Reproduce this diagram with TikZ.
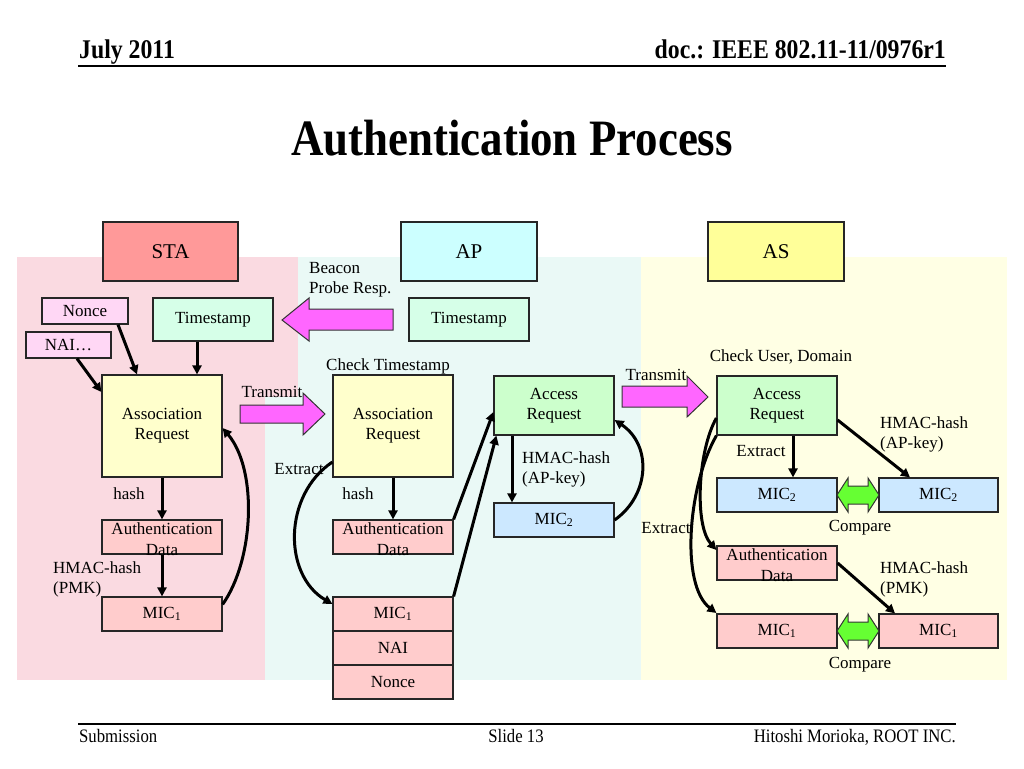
\documentclass[tikz,border=0pt]{standalone}
\usepackage{fontspec}
\setmainfont{Liberation Serif}
\newfontfamily\condserif[FakeStretch=0.88]{Liberation Serif}
\usetikzlibrary{arrows.meta}
\definecolor{zonePink}{RGB}{250,218,225}
\definecolor{zoneCyan}{RGB}{234,249,246}
\definecolor{zoneYellow}{RGB}{255,255,228}
\definecolor{staC}{RGB}{255,153,153}
\definecolor{apC}{RGB}{204,255,255}
\definecolor{asC}{RGB}{255,255,153}
\definecolor{lilac}{RGB}{255,215,245}
\definecolor{mint}{RGB}{214,255,232}
\definecolor{creamC}{RGB}{255,255,204}
\definecolor{roseC}{RGB}{255,204,204}
\definecolor{greenC}{RGB}{204,255,204}
\definecolor{blueC}{RGB}{204,232,255}
\definecolor{magentaC}{RGB}{255,102,255}
\definecolor{limeC}{RGB}{102,255,51}
\begin{document}
\begin{tikzpicture}[x=1pt,y=-1pt,
  box/.style={draw=black!85, line width=1.2pt, inner sep=0pt, align=center,
              font=\fontsize{17}{20}\selectfont},
  head/.style={box, font=\fontsize{21}{24}\selectfont},
  txt/.style={inner sep=0pt, align=center, font=\fontsize{17}{21}\selectfont},
  lbl/.style={inner sep=0pt, align=left, font=\fontsize{17}{20}\selectfont},
  conn/.style={line width=3pt, -{Triangle[length=9pt,width=9pt]}},
  blockarrow/.style={draw=black!80, line width=1pt, fill=magentaC},
  dblarrow/.style={draw=black!80, line width=1pt, fill=limeC}]
\useasboundingbox (0,0) rectangle (1024,768);
\fill[white] (0,0) rectangle (1024,768);

% zones
\fill[zonePink] (17,257) rectangle (298,680);
\fill[zoneCyan] (298,257) rectangle (641,680);
\fill[zoneCyan] (265,397) rectangle (298,680);
\fill[zoneYellow] (641,257) rectangle (1007,680);

% header and footer
\node[anchor=base west, inner sep=0pt, font=\fontsize{27}{30}\condserif\bfseries] (hdate) at (79,59) {July 2011};
\node[anchor=base east, inner sep=0pt, font=\fontsize{27}{30}\condserif\bfseries] (hdoc) at (946,59) {doc.: IEEE 802.11-11/0976r1};
\draw[line width=2pt] (78,66) -- (946,66);
\node[inner sep=0pt, font=\fontsize{51}{56}\condserif\bfseries] (title) at (512,138) {Authentication Process};
\draw[line width=1.5pt] (78,724) -- (956,724);
\node[anchor=base west, inner sep=0pt, font=\fontsize{19}{20}\condserif] (fsub) at (79,742) {Submission};
\node[anchor=base, inner sep=0pt, font=\fontsize{19}{20}\condserif] (fslide) at (516,742) {Slide 13};
\node[anchor=base east, inner sep=0pt, font=\fontsize{19}{20}\condserif] (fauth) at (956,742) {Hitoshi Morioka, ROOT INC.};

% column headers
\node[head, fill=staC, minimum width=135, minimum height=59] (STA) at (170.5,251.5) {STA};
\node[head, fill=apC, minimum width=136, minimum height=59] (AP) at (469,251.5) {AP};
\node[head, fill=asC, minimum width=136, minimum height=59] (AS) at (776,251.5) {AS};

% STA side
\node[box, fill=lilac, minimum width=86, minimum height=26] (nonce) at (85,311) {Nonce};
\node[box, fill=lilac, minimum width=85, minimum height=26] (nai) at (68.5,345) {NAI…};
\node[box, fill=mint, minimum width=120, minimum height=43] (sTS) at (213,319.5) {Timestamp};
\node[box, fill=creamC, minimum width=120, minimum height=102] (sAR) at (162,426) {Association\\Request};
\node[box, fill=roseC, minimum width=120, minimum height=34] (sAD) at (162,537) {};
\node[txt] (sADt) at (162,539) {Authentication\\Data};
\node[box, fill=roseC, minimum width=120, minimum height=34] (sMIC) at (162,614) {MIC\textsubscript{1}};

% AP side
\node[box, fill=mint, minimum width=120, minimum height=43] (aTS) at (469,319.5) {Timestamp};
\node[box, fill=creamC, minimum width=120, minimum height=102] (aAR) at (393,426) {Association\\Request};
\node[box, fill=roseC, minimum width=120, minimum height=34] (aAD) at (393,537) {};
\node[txt] (aADt) at (393,539) {Authentication\\Data};
\node[box, fill=roseC, minimum width=120, minimum height=34] (aMIC) at (393,614) {MIC\textsubscript{1}};
\node[box, fill=roseC, minimum width=120, minimum height=34] (aNAI) at (393,648) {NAI};
\node[box, fill=roseC, minimum width=120, minimum height=34] (aNonce) at (393,682) {Nonce};
\node[box, fill=greenC, minimum width=120, minimum height=59] (xAR) at (554,405.5) {Access\\Request};
\node[box, fill=blueC, minimum width=120, minimum height=34] (aMIC2) at (554,520) {MIC\textsubscript{2}};

% AS side
\node[box, fill=greenC, minimum width=120, minimum height=59] (bAR) at (777,405.5) {Access\\Request};
\node[box, fill=blueC, minimum width=120, minimum height=34] (bMIC2l) at (777,495) {MIC\textsubscript{2}};
\node[box, fill=blueC, minimum width=119, minimum height=34] (bMIC2r) at (938.5,495) {MIC\textsubscript{2}};
\node[box, fill=roseC, minimum width=120, minimum height=34] (bAD) at (777,563) {};
\node[txt] (bADt) at (777,565) {Authentication\\Data};
\node[box, fill=roseC, minimum width=120, minimum height=34] (bMIC1l) at (777,631) {MIC\textsubscript{1}};
\node[box, fill=roseC, minimum width=119, minimum height=34] (bMIC1r) at (938.5,631) {MIC\textsubscript{1}};

% block arrows
\draw[blockarrow] (282,320) -- (309,298) -- (309,309) -- (393,309) -- (393,330) -- (309,330) -- (309,341) -- cycle;
\draw[blockarrow] (325,414) -- (303,393) -- (303,405) -- (240,405) -- (240,423) -- (303,423) -- (303,435) -- cycle;
\draw[blockarrow] (708,397) -- (687,376) -- (687,386) -- (622,386) -- (622,407) -- (687,407) -- (687,417) -- cycle;
\draw[dblarrow] (837,495) -- (848,478) -- (848,486) -- (868,486) -- (868,478) -- (879,495) -- (868,512) -- (868,504) -- (848,504) -- (848,512) -- cycle;
\draw[dblarrow] (837,631) -- (848,614) -- (848,622) -- (868,622) -- (868,614) -- (879,631) -- (868,648) -- (868,640) -- (848,640) -- (848,648) -- cycle;

% labels
\node[lbl, anchor=north west] (beacon) at (309,262) {Beacon\\Probe Resp.};
\node[lbl] (chkts) at (388,366) {Check Timestamp};
\node[lbl] (tx1) at (272,392) {Transmit};
\node[lbl] (ex1) at (299,469) {Extract};
\node[lbl] (hash1) at (129,494) {hash};
\node[lbl] (hash2) at (358,494) {hash};
\node[lbl, anchor=north west] (hm1) at (53,561) {HMAC-hash\\(PMK)};
\node[lbl, anchor=north west] (hm2) at (522,451) {HMAC-hash\\(AP-key)};
\node[lbl] (tx2) at (656,375) {Transmit};
\node[lbl] (chkud) at (781,357) {Check User, Domain};
\node[lbl] (ex2) at (761,451) {Extract};
\node[lbl, anchor=north west] (hm3) at (880,416) {HMAC-hash\\(AP-key)};
\node[lbl] (cmp1) at (860,528) {Compare};
\node[lbl] (ex3) at (666,528) {Extract};
\node[lbl, anchor=north west] (hm4) at (880,561) {HMAC-hash\\(PMK)};
\node[lbl] (cmp2) at (860,665) {Compare};

% connectors STA
\draw[conn] ([xshift=33pt]nonce.south) -- ([xshift=-25pt]sAR.north);
\draw[conn] ([xshift=8.5pt]nai.south) -- ([yshift=34pt]sAR.west);
\draw[conn] ([xshift=-16pt]sTS.south) -- ([xshift=-16pt]sTS.south |- sAR.north);
\draw[conn] (sAR.south) -- (sAD.north);
\draw[conn] (sAD.south) -- (sMIC.north);
\draw[conn] ([yshift=-8pt]sMIC.north east) .. controls (254,560) and (258,470) .. ([yshift=-2pt]sAR.east);

% connectors AP
\draw[conn] (aAR.south) -- (aAD.north);
\draw[conn] ([yshift=-36pt]aAR.west) .. controls (283,495) and (283,575) .. ([yshift=10pt]aMIC.west);
\draw[conn] (aAD.north east) -- ([yshift=-6.5pt]xAR.west);
\draw[conn] (aMIC.north east) -- ([xshift=3pt]xAR.south west);
\draw[conn] ([xshift=-42pt]xAR.south) -- ([xshift=-42pt]aMIC2.north);
\draw[conn] (aMIC2.east) .. controls (650,495) and (652,445) .. ([yshift=-14.5pt]xAR.east);

% connectors AS
\draw[conn] ([xshift=16pt]bAR.south) -- ([xshift=16pt]bMIC2l.north);
\draw[conn] ([yshift=-14.5pt]bAR.east) -- ([xshift=-28.5pt]bMIC2r.north);
\draw[conn] ([yshift=-12.5pt]bAR.west) .. controls (698,450) and (694,525) .. ([yshift=13pt]bAD.west);
\draw[conn] (bAR.south west) .. controls (688,485) and (680,585) .. ([yshift=18pt]bMIC1l.west);
\draw[conn] (bAD.east) -- ([xshift=-43.5pt]bMIC1r.north);
\end{tikzpicture}
\end{document}
